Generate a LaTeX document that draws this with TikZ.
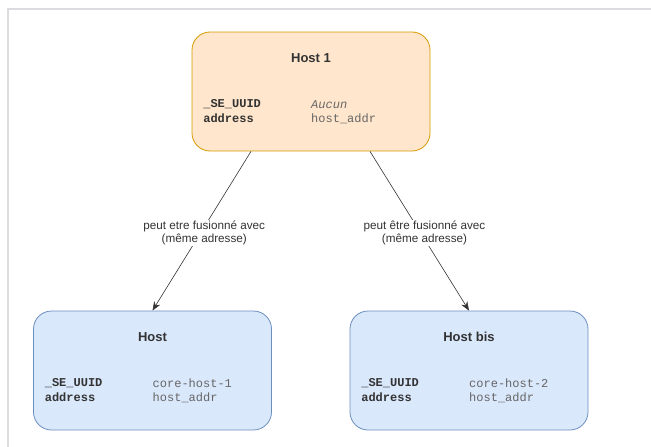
\documentclass[tikz,border=0pt]{standalone}
\usepackage{fontspec}
\setmainfont{Liberation Sans}
\setmonofont{Liberation Mono}
\usetikzlibrary{arrows.meta}
\definecolor{orangefill}{HTML}{FFE6CC}
\definecolor{orangeline}{HTML}{D79B00}
\definecolor{bluefill}{HTML}{DAE8FC}
\definecolor{blueline}{HTML}{6C8EBF}
\definecolor{textgray}{HTML}{333333}
\definecolor{framegray}{HTML}{DCDCE0}
\tikzset{
    hostbox/.style={draw, rounded corners=18pt, minimum width=238pt, minimum height=119pt, line width=0.8pt},
    hosttitle/.style={font=\fontsize{13}{15}\selectfont\bfseries, text=textgray},
    fieldkey/.style={anchor=west, inner sep=0pt, font=\fontsize{12}{14}\selectfont\ttfamily\bfseries, text=textgray},
    fieldval/.style={anchor=west, inner sep=0pt, font=\fontsize{12}{14}\selectfont\ttfamily, text=black!60},
    fusion/.style={draw=textgray, line width=0.6pt, -{Stealth[length=9pt,width=7pt]}},
    fusionlabel/.style={fill=white, align=center, inner sep=1pt, xshift=4pt, font=\fontsize{11.7}{13}\selectfont, text=textgray},
}

\begin{document}
\begin{tikzpicture}[x=1pt,y=-1pt]
            \useasboundingbox (0,0) rectangle (651,447);
            \draw[framegray, line width=1.2pt] (8,447)--(8,9)--(651,9);
            % the three hosts
            \node[hostbox, fill=orangefill, draw=orangeline] (host1) at (311,91.5) {};
            \node[hostbox, fill=bluefill, draw=blueline] (host) at (152.5,370.5) {};
            \node[hostbox, fill=bluefill, draw=blueline] (hostbis) at (469,370.5) {};
            \node[hosttitle] (host1-title) at ([yshift=-26pt]host1.north) {Host 1};
            \node[hosttitle] (host-title) at ([yshift=-26pt]host.north) {Host};
            \node[hosttitle] (hostbis-title) at ([yshift=-26pt]hostbis.north) {Host bis};
            \foreach \h/\uuid in {host1/\textit{Aucun}, host/core-host-1, hostbis/core-host-2}{
                \node[fieldkey] (\h-k1) at ([xshift=11.5pt,yshift=-13pt]\h.west) {\_SE\_UUID};
                \node[fieldkey] (\h-k2) at ([xshift=11.5pt,yshift=-27pt]\h.west) {address};
                \node[fieldval] (\h-v1) at ([yshift=-13pt]\h.center) {\uuid};
                \node[fieldval] (\h-v2) at ([yshift=-27pt]\h.center) {host\_addr};
            }
            % merge arrows
            \draw[fusion] ([xshift=-60pt]host1.south) -- (host.north)
                node[fusionlabel, pos=0.515] (merge-left) {peut etre fusionné avec\\(même adresse)};
            \draw[fusion] ([xshift=59pt]host1.south) -- (hostbis.north)
                node[fusionlabel, pos=0.51] (merge-right) {peut être fusionné avec\\(même adresse)};
        \end{tikzpicture}
\end{document}
